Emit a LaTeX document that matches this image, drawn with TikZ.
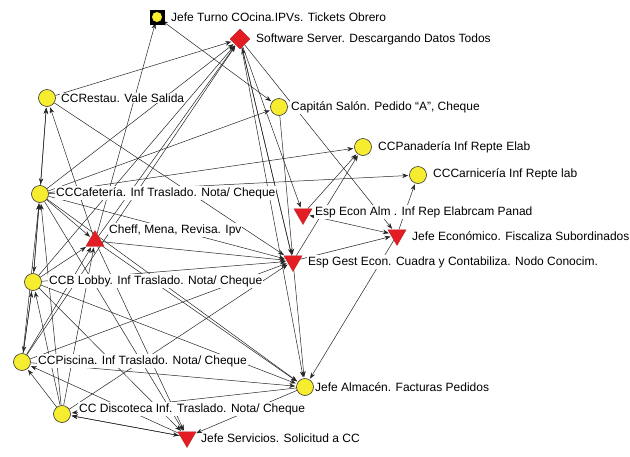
\documentclass[tikz,border=0pt]{standalone}
\usepackage{fontspec}
\setmainfont{Liberation Sans}
\usetikzlibrary{shapes.geometric,arrows.meta}
\pgfdeclarelayer{bg}
\pgfsetlayers{bg,main}
\definecolor{ny}{RGB}{246,236,48}
\definecolor{nr}{RGB}{226,30,36}
\begin{document}
\begin{tikzpicture}[x=1pt,y=-1pt,
  circ/.style={circle,draw=black!80,line width=0.6pt,fill=ny,minimum size=17pt,inner sep=0pt},
  tdown/.style={regular polygon,regular polygon sides=3,shape border rotate=180,fill=nr,draw=nr!80!black,line width=0.3pt,minimum size=21pt,inner sep=0pt},
  tup/.style={regular polygon,regular polygon sides=3,fill=nr,draw=nr!80!black,line width=0.3pt,minimum size=21pt,inner sep=0pt},
  dia/.style={diamond,fill=nr,draw=nr!80!black,line width=0.3pt,minimum size=20pt,inner sep=0pt},
  sq/.style={rectangle,fill=black,minimum size=15pt,inner sep=0pt},
  lbl/.style={anchor=west,fill=white,inner sep=1pt,font=\fontsize{12}{14}\selectfont},
  edge/.style={line width=0.5pt,draw=black!85,-{Stealth[length=6pt,width=4.5pt]},shorten >=1pt},
  bedge/.style={line width=0.5pt,draw=black!85,{Stealth[length=6pt,width=4.5pt]}-{Stealth[length=6pt,width=4.5pt]},shorten >=1pt,shorten <=1pt}
]
\useasboundingbox (0,0) rectangle (630,456);

% nodes
\node[sq] (JTs) at (157,17) {};
\node[circle,fill=ny,minimum size=10pt,inner sep=0pt] (JT) at (157,17) {};
\node[dia] (SS) at (240,39) {};
\node[circ] (CR) at (47,98) {};
\node[circ] (CS) at (279,107) {};
\node[circ] (CPan) at (363,147) {};
\node[circ] (CCar) at (418,175) {};
\node[circ] (CCaf) at (40,194) {};
\node[tdown] (EEA) at (303,214) {};
\node[tup] (Cheff) at (95,241) {};
\node[tdown] (JE) at (397,235) {};
\node[tdown] (EGE) at (293,261) {};
\node[circ] (CCB) at (33,282) {};
\node[circ] (CPis) at (22,362) {};
\node[circ] (JA) at (305,387) {};
\node[circ] (CCD) at (62,414) {};
\node[tdown] (JS) at (187,437) {};

% labels
\node[lbl] (lJT) at (170,17) {Jefe Turno COcina.IPVs. Tickets Obrero};
\node[lbl] (lSS) at (255,39) {Software Server. Descargando Datos Todos};
\node[lbl] (lCR) at (60,98) {CCRestau. Vale Salida};
\node[lbl] (lCS) at (290,107) {Capitán Salón. Pedido “A”, Cheque};
\node[lbl] (lCPan) at (377,147) {CCPanadería Inf Repte Elab};
\node[lbl] (lCCar) at (432,174) {CCCarnicería Inf Repte lab};
\node[lbl] (lCCaf) at (55,193) {CCCafetería. Inf Traslado. Nota/ Cheque};
\node[lbl] (lEEA) at (314,212) {Esp Econ Alm . Inf Rep Elabrcam Panad};
\node[lbl] (lCheff) at (108,230) {Cheff, Mena, Revisa. Ipv};
\node[lbl] (lJE) at (411,236) {Jefe Económico. Fiscaliza Subordinados};
\node[lbl] (lEGE) at (307,262) {Esp Gest Econ. Cuadra y Contabiliza. Nodo Conocim.};
\node[lbl] (lCCB) at (48,281) {CCB Lobby. Inf Traslado. Nota/ Cheque};
\node[lbl] (lCPis) at (37,361) {CCPiscina. Inf Traslado. Nota/ Cheque};
\node[lbl] (lJA) at (314,387) {Jefe Almacén. Facturas Pedidos};
\node[lbl] (lCCD) at (78,409) {CC Discoteca Inf. Traslado. Nota/ Cheque};
\node[lbl] (lJS) at (200,438) {Jefe Servicios. Solicitud a CC};

\begin{pgfonlayer}{bg}
\fill[white] (0,0) rectangle (630,456);
\foreach \a/\b in {CR/SS,CCaf/SS,Cheff/SS,CCB/SS,CPis/SS,
  SS/EGE,SS/EEA,SS/JA,SS/JE,EGE/SS,CS/EGE,
  Cheff/JT,CCaf/CS,
  CCB/CR,Cheff/CR,CR/EGE,
  CCaf/CPan,CCaf/CCar,CCaf/Cheff,CCaf/EGE,CCaf/JA,CCaf/JS,
  Cheff/EGE,Cheff/JA,Cheff/JS,
  CCB/Cheff,CCB/CPis,CCB/EGE,CCB/JA,CCB/JS,
  CPis/CCB,CPis/Cheff,CPis/CCaf,CPis/EGE,CPis/JA,
  CCD/CPis,CCD/CCB,CCD/CCaf,CCD/Cheff,CCD/EGE,
  JS/CCD,JS/CPis,JA/JS,JA/CCD,
  EGE/JA,EGE/JE,EGE/CPan,
  EEA/CPan,JE/CCar,JE/JA}
  \draw[edge] (\a) -- (\b);
\draw[bedge] (JT) -- (CS);
\draw[bedge] (CCaf) -- (CR);
\draw[bedge] (CCaf) -- (CCB);
\draw[bedge] (EEA) -- (JE);
\draw[bedge] (CCD) -- (JS);
\end{pgfonlayer}
\end{tikzpicture}
\end{document}
